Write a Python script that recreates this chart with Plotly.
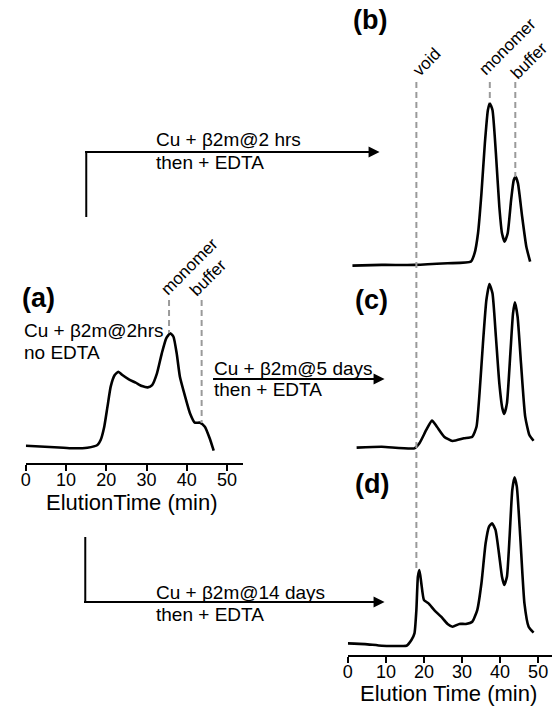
import plotly.graph_objects as go

W, H = 553, 707

# ---------------- data ----------------
# Panel (a): Cu + b2m @ 2 hrs, no EDTA
t_a = [0, 7.1, 11.2, 15.3, 17.8, 18.6, 19.5, 20.3, 21.1, 22.1, 23.0, 24.0, 25.6, 27.3,
       28.9, 30.3, 31.4, 32.6, 33.8, 34.9, 35.9, 36.7, 37.5, 38.3, 39.6, 40.8, 42.0,
       43.3, 44.5, 45.7, 46.7]
s_a = [0.121, 0.110, 0.103, 0.107, 0.126, 0.161, 0.254, 0.394, 0.534, 0.615, 0.638,
       0.615, 0.585, 0.562, 0.538, 0.529, 0.545, 0.627, 0.767, 0.872, 0.907, 0.883,
       0.767, 0.603, 0.464, 0.348, 0.282, 0.282, 0.254, 0.173, 0.086]

# Panel (b): 2 hrs then + EDTA
t_b = [1.2, 8.9, 17.5, 26.2, 32.3, 33.3, 34.2, 35.1, 36.0, 36.8, 37.3, 38.0, 38.9, 39.8,
       40.5, 41.2, 42.0, 42.9, 43.6, 44.1, 44.7, 45.8, 46.9, 47.9]
s_b = [0.052, 0.056, 0.056, 0.065, 0.074, 0.121, 0.232, 0.454, 0.732, 0.917, 0.954,
       0.917, 0.676, 0.379, 0.232, 0.185, 0.232, 0.417, 0.528, 0.546, 0.509, 0.324,
       0.157, 0.074]

# Panel (c): 5 days then + EDTA
t_c = [2.3, 8.9, 17.5, 18.8, 20.6, 22.1, 23.4, 25.3, 27.5, 30.5, 32.7, 33.8, 34.6, 35.5,
       36.4, 37.2, 38.0, 38.9, 39.8, 40.6, 41.1, 41.8, 42.7, 43.4, 43.9, 44.6, 45.5,
       46.6, 47.7, 48.8]
s_c = [0.041, 0.046, 0.037, 0.065, 0.139, 0.191, 0.157, 0.102, 0.078, 0.093, 0.102,
       0.157, 0.343, 0.621, 0.861, 0.950, 0.898, 0.657, 0.398, 0.259, 0.228, 0.287,
       0.565, 0.787, 0.848, 0.768, 0.509, 0.213, 0.111, 0.079]

# Panel (d): 14 days then + EDTA
t_d = [0, 4.5, 8.9, 13.2, 15.4, 16.7, 17.5, 18.0, 18.4, 18.8, 19.3, 20.0, 21.2, 22.7,
       24.5, 26.2, 27.5, 29.3, 31.0, 32.7, 34.0, 35.1, 36.2, 37.1, 37.9, 38.8, 39.7,
       40.5, 41.1, 41.8, 42.5, 43.2, 43.8, 44.4, 45.3, 46.4, 47.5, 48.8]
s_d = [0.063, 0.059, 0.050, 0.049, 0.050, 0.081, 0.117, 0.243, 0.423, 0.459, 0.388,
       0.297, 0.279, 0.243, 0.207, 0.168, 0.153, 0.168, 0.168, 0.180, 0.243, 0.388,
       0.604, 0.694, 0.712, 0.676, 0.550, 0.423, 0.378, 0.423, 0.639, 0.892, 0.961,
       0.910, 0.639, 0.279, 0.153, 0.121]

tick_vals = [0, 10, 20, 30, 40, 50]
tick_text = ["0", "10", "20", "30", "40", "50"]

# marker positions (elution times, min)
t_void = 18.0
t_mono_a, t_buf_a = 35.6, 43.7
t_mono_b, t_buf_b = 37.3, 44.0

FONT = "Liberation Sans, Arial, Helvetica, sans-serif"


def px(x):
    return x / W


def py(y):
    return 1 - y / H


fig = go.Figure()
line = dict(color="black", width=2.6, shape="spline", smoothing=0.5)
fig.add_trace(go.Scatter(x=t_a, y=s_a, mode="lines", line=line, xaxis="x", yaxis="y"))
fig.add_trace(go.Scatter(x=t_b, y=s_b, mode="lines", line=line, xaxis="x2", yaxis="y2"))
fig.add_trace(go.Scatter(x=t_c, y=s_c, mode="lines", line=line, xaxis="x3", yaxis="y3"))
fig.add_trace(go.Scatter(x=t_d, y=s_d, mode="lines", line=line, xaxis="x4", yaxis="y4"))

xa_dom = [px(21), px(240)]
xr_dom = [px(346), px(552)]
xa_rng = [0, (240 - 21) / 4.06]
xr_rng = [0, (552 - 346) / 3.84]

shown_x = dict(showline=True, linecolor="black", linewidth=1.5, ticks="outside",
               ticklen=6, tickwidth=1.5, tickcolor="black", tickvals=tick_vals,
               ticktext=tick_text, tickfont=dict(family=FONT, size=18, color="black"),
               ticklabelstandoff=-6, showgrid=False, zeroline=False)
hidden = dict(visible=False, showgrid=False, zeroline=False)

fig.update_layout(
    width=W, height=H, margin=dict(l=0, r=0, t=0, b=0),
    paper_bgcolor="white", plot_bgcolor="rgba(0,0,0,0)", showlegend=False,
    font=dict(family=FONT, color="black"),
    xaxis=dict(domain=xa_dom, range=xa_rng, anchor="y", **shown_x),
    yaxis=dict(domain=[py(463), py(320)], range=[0, 1], anchor="x", **hidden),
    xaxis2=dict(domain=xr_dom, range=xr_rng, anchor="y2", **hidden),
    yaxis2=dict(domain=[py(275), py(95)], range=[0, 1], anchor="x2", **hidden),
    xaxis3=dict(domain=xr_dom, range=xr_rng, anchor="y3", **hidden),
    yaxis3=dict(domain=[py(455), py(275)], range=[0, 1], anchor="x3", **hidden),
    xaxis4=dict(domain=xr_dom, range=xr_rng, anchor="y4", **shown_x),
    yaxis4=dict(domain=[py(655), py(470)], range=[0, 1], anchor="x4", **hidden),
)

dash = dict(color="#9a9a9a", width=2, dash="6px,4px")
shapes = [
    dict(type="line", xref="x2", yref="paper", x0=t_void, x1=t_void, y0=py(82), y1=py(569), line=dash),
    dict(type="line", xref="x2", yref="paper", x0=t_mono_b, x1=t_mono_b, y0=py(82), y1=py(103), line=dash),
    dict(type="line", xref="x2", yref="paper", x0=t_buf_b, x1=t_buf_b, y0=py(82), y1=py(177), line=dash),
    dict(type="line", xref="x", yref="paper", x0=t_mono_a, x1=t_mono_a, y0=py(300), y1=py(333), line=dash),
    dict(type="line", xref="x", yref="paper", x0=t_buf_a, x1=t_buf_a, y0=py(300), y1=py(423), line=dash),
    # vertical stems of the branching arrows
    dict(type="line", xref="paper", yref="paper", x0=px(82), x1=px(82), y0=py(151), y1=py(217),
         line=dict(color="black", width=2)),
    dict(type="line", xref="paper", yref="paper", x0=px(81), x1=px(81), y0=py(537), y1=py(603),
         line=dict(color="black", width=2)),
]
fig.update_layout(shapes=shapes)

ann = []


def text(x, y, s, size=19, bold=False, anchor="left", angle=0):
    ann.append(dict(x=px(x), y=py(y), xref="paper", yref="paper", text=("<b>%s</b>" % s) if bold else s,
                    showarrow=False, xanchor=anchor, yanchor="middle", textangle=angle,
                    font=dict(family=FONT, size=size, color="black")))


def arrow(x_tip, y, length):
    ann.append(dict(x=px(x_tip), y=py(y), xref="paper", yref="paper", text="", showarrow=True,
                    ax=-length, ay=0, arrowhead=2, arrowsize=1.1, arrowwidth=2, arrowcolor="black"))


text(15, 298, "(a)", size=27, bold=True)
text(349, 20, "(b)", size=27, bold=True)
text(351, 300, "(c)", size=27, bold=True)
text(351, 484, "(d)", size=27, bold=True)

text(17, 330, "Cu + β2m@2hrs")
text(17, 352, "no EDTA")
text(150, 140, "Cu + β2m@2 hrs")
text(150, 163, "then + EDTA")
text(209, 368, "Cu + β2m@5 days")
text(209, 390, "then + EDTA")
text(150, 592, "Cu + β2m@14 days")
text(150, 614, "then + EDTA")

# axis titles
text(128, 502, "ElutionTime (min)", size=22, anchor="center")
text(448, 693, "Elution Time (min)", size=22, anchor="center")

text(425, 62, "void", size=17, anchor="center", angle=-45)
text(507, 46, "monomer", size=17, anchor="center", angle=-45)
text(529, 60, "buffer", size=17, anchor="center", angle=-45)
text(186, 266, "monomer", size=17, anchor="center", angle=-45)
text(205, 277, "buffer", size=17, anchor="center", angle=-45)

arrow(378, 152, 296)
arrow(383, 379, 173)
arrow(383, 602, 302)

fig.update_layout(annotations=ann)
fig.write_html("out.html")
